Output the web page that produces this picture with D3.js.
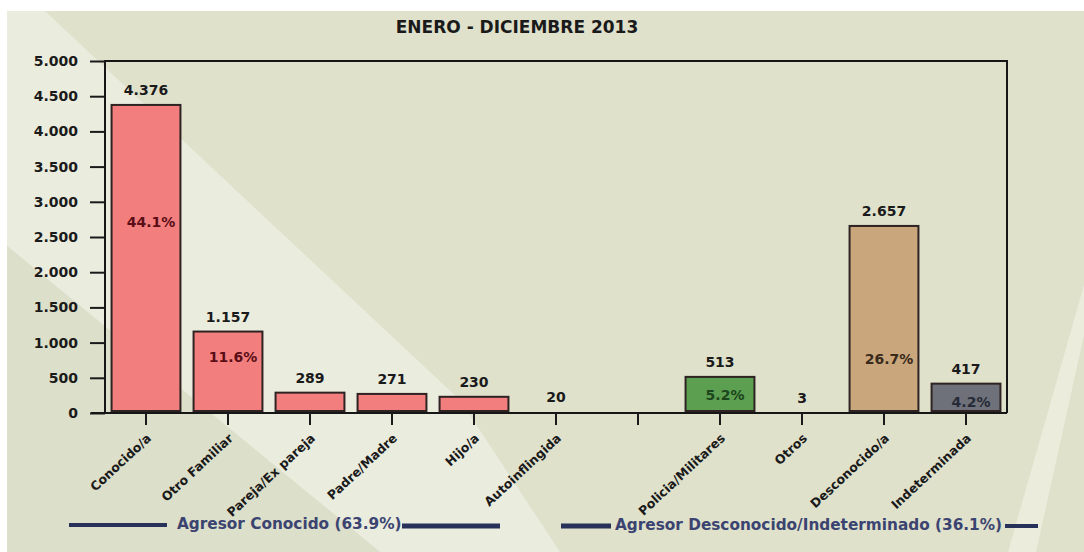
<!DOCTYPE html>
<html><head><meta charset="utf-8">
<script src="https://cdn.jsdelivr.net/npm/d3@7"></script>
<style>
body{margin:0;background:#fff}
svg{display:block}
text{font-family:"DejaVu Sans",sans-serif;font-weight:bold}
</style>
</head><body>
<svg id="chart" width="1084" height="552"></svg>
<script>
// ---- data ----
const title = "ENERO - DICIEMBRE 2013";
const categories = ["Conocido/a","Otro Familiar","Pareja/Ex pareja","Padre/Madre","Hijo/a","Autoinflingida","","Policia/Militares","Otros","Desconocido/a","Indeterminada"];
const values = [4376,1157,289,271,230,20,null,513,3,2657,417];
const groups = ["known","known","known","known","known","known","none","police","other","unknown","undetermined"];
const percentLabels = ["44.1%","11.6%","","","","","","5.2%","","26.7%","4.2%"];
const percentAt = [2640,725,null,null,null,null,null,185,null,695,85]; // data value where the % label sits
const yTicks = [0,500,1000,1500,2000,2500,3000,3500,4000,4500,5000];
const groupLabels = ["Agresor Conocido (63.9%)","Agresor Desconocido/Indeterminado (36.1%)"];

// ---- styles ----
const fillColor = {known:"#f27e7e", police:"#5c9f50", other:"#888", unknown:"#c9a67b", undetermined:"#6e7179", none:"none"};
const pctColor = {known:"#5a0e16", police:"#1b461c", other:"#222", unknown:"#3a2a1b", undetermined:"#262a36", none:"#000"};

const fmt = d3.formatLocale({decimal:",", thousands:".", grouping:[3], currency:["",""]}).format(",");

const svg = d3.select("#chart");

// background
svg.append("rect").attr("x",7).attr("y",11).attr("width",1077).attr("height",541).attr("fill","#dfe1cb");
const line = d3.line();
svg.append("path").attr("d", line([[7,11],[45,11],[225,180],[460,400],[560,552],[380,552],[7,246]])+"Z").attr("fill","#eaecde");
svg.append("path").attr("d", line([[7,246],[380,552],[7,552]])+"Z").attr("fill","#dcdfc9");
svg.append("path").attr("d", line([[1084,285],[1084,335],[1036,552],[1008,552]])+"Z").attr("fill","#ebecdc");

// scales
const x = d3.scaleBand().domain(categories).range([105,1007]).paddingInner(0.16).paddingOuter(0.08);
const y = d3.scaleLinear().domain([0,5000]).range([413,61]);

// title
svg.append("text").attr("x",517).attr("y",33).attr("text-anchor","middle")
  .attr("font-size",17).attr("fill","#1a1a1a").text(title);

// y axis
const yAxis = svg.append("g").attr("transform","translate(105,0)")
  .call(d3.axisLeft(y).tickValues(yTicks).tickSize(15).tickPadding(12).tickFormat(fmt));
yAxis.select(".domain").remove();
yAxis.selectAll("line").attr("stroke","#1a1a1a").attr("stroke-width",2);
yAxis.selectAll("text").attr("font-size",14).attr("fill","#1a1a1a").attr("font-family","DejaVu Sans").attr("font-weight","bold");

// bars
const idx = d3.range(categories.length).filter(i => values[i] != null);
svg.append("g").selectAll("rect").data(idx).join("rect")
  .attr("x", i => x(categories[i]))
  .attr("width", x.bandwidth())
  .attr("y", i => y(values[i]))
  .attr("height", i => Math.max(0, y(0) - 2 - y(values[i])))
  .attr("fill", i => fillColor[groups[i]])
  .attr("stroke", i => values[i] > 50 ? "#2e2222" : "none")
  .attr("stroke-width",2);

// frame
svg.append("path").attr("d", line([[105,413],[105,61],[1007,61],[1007,413]]))
  .attr("fill","none").attr("stroke","#161616").attr("stroke-width",2);

// x axis
const xAxis = svg.append("g").attr("transform","translate(0,413)")
  .call(d3.axisBottom(x).tickSize(12).tickPadding(0));
xAxis.select(".domain").attr("d","M91,0H1007").attr("stroke","#161616").attr("stroke-width",2);
xAxis.selectAll("line").attr("stroke","#1a1a1a").attr("stroke-width",2);
xAxis.selectAll("text")
  .attr("x",0).attr("y",0).attr("dy","0.35em")
  .attr("transform","translate(3,23) rotate(-43)")
  .style("text-anchor","end")
  .attr("font-size",12.5).attr("fill","#1a1a1a")
  .attr("font-family","DejaVu Sans").attr("font-weight","bold");

// value labels
svg.append("g").selectAll("text").data(idx).join("text")
  .attr("x", i => x(categories[i]) + x.bandwidth()/2)
  .attr("y", i => y(values[i]) - 10)
  .attr("text-anchor","middle").attr("font-size",14).attr("fill","#1a1a1a")
  .text(i => fmt(values[i]));

// percent labels
const pidx = idx.filter(i => percentLabels[i]);
svg.append("g").selectAll("text").data(pidx).join("text")
  .attr("x", i => x(categories[i]) + x.bandwidth()/2 + 5)
  .attr("y", i => y(percentAt[i]))
  .attr("text-anchor","middle").attr("font-size",14)
  .attr("fill", i => pctColor[groups[i]])
  .text(i => percentLabels[i]);

// group legends
const navy = "#27315a";
const seg = (x1,x2,yy,w) => svg.append("line").attr("x1",x1).attr("x2",x2).attr("y1",yy).attr("y2",yy).attr("stroke",navy).attr("stroke-width",w);
seg(69,167,525,4); seg(402,500,526,5);
seg(561,611,526,5); seg(1005,1038,526,4);
svg.append("text").attr("x",177).attr("y",529).attr("font-size",15.3).attr("fill","#3b4471").text(groupLabels[0]);
svg.append("text").attr("x",615).attr("y",530).attr("font-size",15.3).attr("fill","#3b4471").text(groupLabels[1]);
</script>
</body></html>
